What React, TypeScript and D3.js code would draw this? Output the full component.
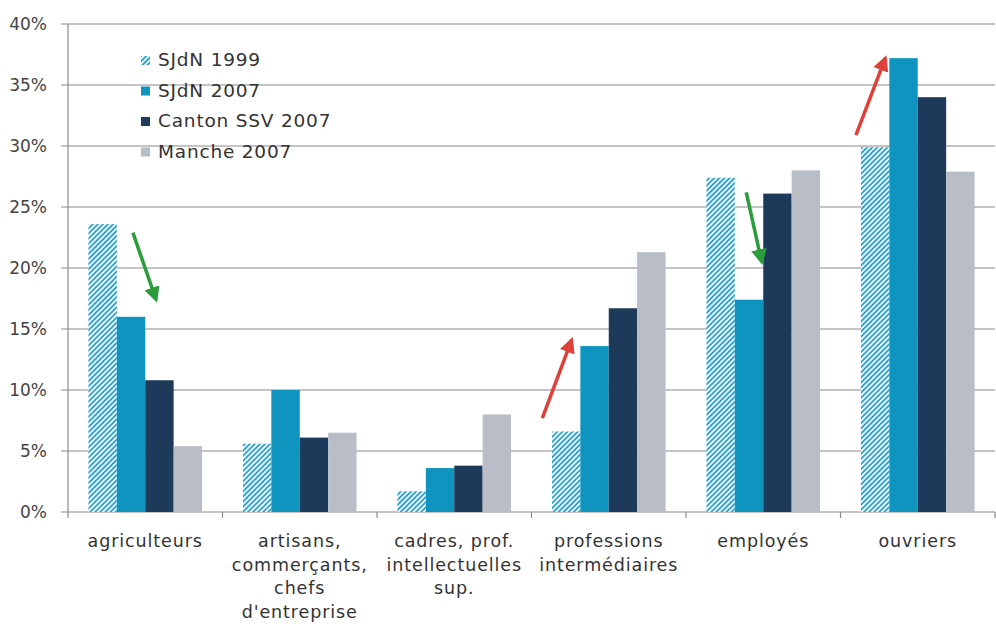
import * as d3 from 'd3';

const categories = [
  ['agriculteurs'],
  ['artisans,', 'commerçants,', 'chefs', "d'entreprise"],
  ['cadres, prof.', 'intellectuelles', 'sup.'],
  ['professions', 'intermédiaires'],
  ['employés'],
  ['ouvriers'],
];

const seriesNames = ['SJdN 1999', 'SJdN 2007', 'Canton SSV 2007', 'Manche 2007'];

const sjdn1999 = [23.6, 5.6, 1.7, 6.6, 27.4, 29.9];
const sjdn2007 = [16.0, 10.0, 3.6, 13.6, 17.4, 37.2];
const canton2007 = [10.8, 6.1, 3.8, 16.7, 26.1, 34.0];
const manche2007 = [5.4, 6.5, 8.0, 21.3, 28.0, 27.9];

const yTicks = [0, 5, 10, 15, 20, 25, 30, 35, 40];

// trend arrows: category index, horizontal offset inside the band (0..1), from value, to value
const arrows = [
  { cat: 0, x1: 0.42, x2: 0.57, from: 22.9, to: 17.4, color: '#2a9d3a' },
  { cat: 3, x1: 0.07, x2: 0.26, from: 7.7, to: 14.1, color: '#e0403a' },
  { cat: 4, x1: 0.39, x2: 0.49, from: 26.2, to: 20.5, color: '#2a9d3a' },
  { cat: 5, x1: 0.1, x2: 0.29, from: 30.9, to: 37.2, color: '#e0403a' },
];

const colors = ['url(#hatch)', '#0f93bf', '#1d3a5a', '#b9bdc5'];
const font = 'Century Gothic, "DejaVu Sans", sans-serif';

export default function App() {
  const width = 996;
  const height = 629;
  const margin = { left: 68, right: 1, top: 24, bottom: 117 };

  const data = [sjdn1999, sjdn2007, canton2007, manche2007];

  const x0 = d3
    .scaleBand<number>()
    .domain(d3.range(categories.length))
    .range([margin.left, width - margin.right])
    .paddingInner(0)
    .paddingOuter(0);

  const x1 = d3
    .scaleBand<number>()
    .domain(d3.range(seriesNames.length))
    .range([0, x0.bandwidth()])
    .paddingOuter(0.72)
    .paddingInner(0);

  const y = d3
    .scaleLinear()
    .domain([0, 40])
    .range([height - margin.bottom, margin.top]);

  const bottom = y(0);

  return (
    <svg
      width={width}
      height={height}
      style={{ position: 'absolute', left: 0, top: 0, background: '#fff' }}
      fontFamily={font}
    >
      <defs>
        <pattern
          id="hatch"
          patternUnits="userSpaceOnUse"
          width={3.6}
          height={3.6}
          patternTransform="rotate(45)"
        >
          <rect width={3.6} height={3.6} fill="#fff" />
          <rect width={1.9} height={3.6} fill="#2ba2d4" />
        </pattern>
        {arrows.map((a, i) => (
          <marker
            key={i}
            id={`head${i}`}
            viewBox="0 0 10 10"
            refX={8}
            refY={5}
            markerWidth={4.5}
            markerHeight={4.5}
            orient="auto"
          >
            <path d="M0,0 L10,5 L0,10 z" fill={a.color} />
          </marker>
        ))}
      </defs>

      {/* gridlines */}
      {yTicks.map((t) => (
        <g key={t}>
          <line
            x1={margin.left - 7}
            x2={width - margin.right}
            y1={y(t)}
            y2={y(t)}
            stroke="#8a8a8a"
            strokeWidth={1.2}
          />
          <text
            x={47}
            y={y(t)}
            dy="0.35em"
            textAnchor="end"
            fontSize={17}
            fill="#444"
          >
            {t}%
          </text>
        </g>
      ))}

      {/* y axis */}
      <line
        x1={margin.left}
        x2={margin.left}
        y1={y(40)}
        y2={bottom}
        stroke="#8a8a8a"
        strokeWidth={1.2}
      />

      {/* category ticks */}
      {d3.range(categories.length + 1).map((i) => {
        const xx = margin.left + i * x0.bandwidth();
        return (
          <line
            key={i}
            x1={xx}
            x2={xx}
            y1={bottom}
            y2={bottom + 6}
            stroke="#8a8a8a"
            strokeWidth={1.2}
          />
        );
      })}

      {/* bars */}
      {data.map((values, s) => (
        <g key={s} fill={colors[s]}>
          {values.map((v, c) => (
            <rect
              key={c}
              x={x0(c)! + x1(s)!}
              y={y(v)}
              width={x1.bandwidth()}
              height={bottom - y(v)}
            />
          ))}
        </g>
      ))}

      {/* arrows */}
      {arrows.map((a, i) => {
        const bx = x0(a.cat)!;
        const bw = x0.bandwidth();
        return (
          <line
            key={i}
            x1={bx + a.x1 * bw}
            x2={bx + a.x2 * bw}
            y1={y(a.from)}
            y2={y(a.to)}
            stroke={a.color}
            strokeWidth={3.5}
            markerEnd={`url(#head${i})`}
          />
        );
      })}

      {/* category labels */}
      {categories.map((lines, c) => (
        <text
          key={c}
          x={x0(c)! + x0.bandwidth() / 2}
          y={bottom + 35}
          textAnchor="middle"
          fontSize={17.5}
          letterSpacing={0.9}
          fill="#333"
        >
          {lines.map((l, j) => (
            <tspan key={j} x={x0(c)! + x0.bandwidth() / 2} dy={j === 0 ? 0 : 23.5}>
              {l}
            </tspan>
          ))}
        </text>
      ))}

      {/* legend */}
      <g transform="translate(141,60)">
        {seriesNames.map((name, i) => (
          <g key={name} transform={`translate(0,${i * 30.5})`}>
            <rect x={0} y={-4} width={9} height={9} fill={colors[i]} />
            <text
              x={17}
              y={0}
              dy="0.35em"
              fontSize={18.5}
              letterSpacing={0.8}
              fill="#333"
            >
              {name}
            </text>
          </g>
        ))}
      </g>
    </svg>
  );
}
